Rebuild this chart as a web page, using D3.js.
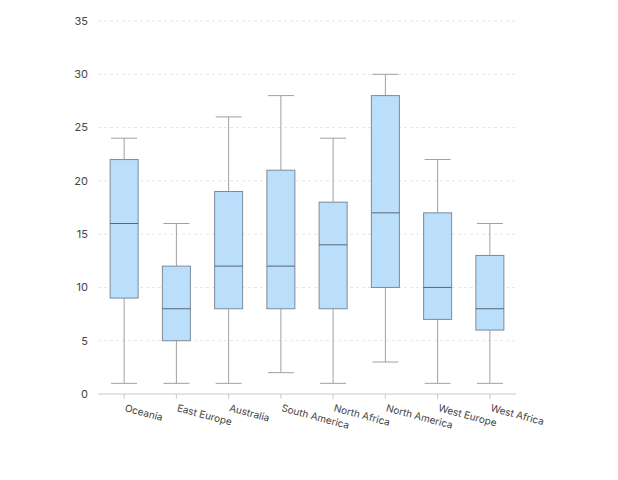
<!DOCTYPE html>
<html>
<head>
<meta charset="utf-8">
<script src="https://cdn.jsdelivr.net/npm/d3@7"></script>
<style>
  body { margin: 0; background: #fff; }
  svg { font-family: Inter, "Noto Sans", sans-serif; }
</style>
</head>
<body>
<svg id="chart"></svg>
<script>
const categories = ["Oceania", "East Europe", "Australia", "South America", "North Africa", "North America", "West Europe", "West Africa"];
const mins    = [1, 1, 1, 2, 1, 3, 1, 1];
const q1s     = [9, 5, 8, 8, 8, 10, 7, 6];
const medians = [16, 8, 12, 12, 14, 17, 10, 8];
const q3s     = [22, 12, 19, 21, 18, 28, 17, 13];
const maxs    = [24, 16, 26, 28, 24, 30, 22, 16];
const yTicks  = [0, 5, 10, 15, 20, 25, 30, 35];

const width = 618, height = 480;
const margin = {top: 21, right: 102, bottom: 86, left: 98};
const innerW = width - margin.left - margin.right;
const innerH = height - margin.top - margin.bottom;

const data = categories.map((c, i) => ({
    name: c, min: mins[i], q1: q1s[i], median: medians[i], q3: q3s[i], max: maxs[i]
}));

const svg = d3.select("#chart").attr("width", width).attr("height", height);
const g = svg.append("g").attr("transform", `translate(${margin.left},${margin.top})`);

const x = d3.scaleBand().domain(categories).range([0, innerW]);
const y = d3.scaleLinear().domain([0, 35]).range([innerH, 0]);

// grid lines
g.selectAll(".grid")
    .data(yTicks.filter(t => t > 0))
    .enter()
    .append("line")
    .attr("x1", 0).attr("x2", innerW)
    .attr("y1", d => y(d)).attr("y2", d => y(d))
    .attr("stroke", "#e6e6e6")
    .attr("stroke-dasharray", "3,3");

// y labels
g.selectAll(".ylab")
    .data(yTicks)
    .enter()
    .append("text")
    .attr("x", -10)
    .attr("y", d => y(d))
    .attr("dy", "0.35em")
    .attr("text-anchor", "end")
    .attr("font-size", 11)
    .attr("fill", "#444")
    .text(d => d);

// x axis line + ticks
g.append("line")
    .attr("x1", 0).attr("x2", innerW)
    .attr("y1", innerH).attr("y2", innerH)
    .attr("stroke", "#c8c8c8");
g.selectAll(".xtick")
    .data(categories)
    .enter()
    .append("line")
    .attr("x1", d => x(d) + x.bandwidth() / 2)
    .attr("x2", d => x(d) + x.bandwidth() / 2)
    .attr("y1", innerH).attr("y2", innerH + 5)
    .attr("stroke", "#c8c8c8");
g.selectAll(".xlab")
    .data(categories)
    .enter()
    .append("text")
    .attr("transform", d => `translate(${x(d) + x.bandwidth() / 2},${innerH + 17}) rotate(15)`)
    .attr("font-size", 10)
    .attr("fill", "#444")
    .text(d => d);

const boxW = 28, capW = 26;
const box = g.selectAll(".box")
    .data(data)
    .enter()
    .append("g")
    .attr("transform", d => `translate(${x(d.name) + x.bandwidth() / 2},0)`);

// whiskers
box.append("line")
    .attr("x1", 0).attr("x2", 0)
    .attr("y1", d => y(d.max)).attr("y2", d => y(d.q3))
    .attr("stroke", "#a0a0a0");
box.append("line")
    .attr("x1", 0).attr("x2", 0)
    .attr("y1", d => y(d.q1)).attr("y2", d => y(d.min))
    .attr("stroke", "#a0a0a0");
box.append("line")
    .attr("x1", -capW / 2).attr("x2", capW / 2)
    .attr("y1", d => y(d.max)).attr("y2", d => y(d.max))
    .attr("stroke", "#a0a0a0");
box.append("line")
    .attr("x1", -capW / 2).attr("x2", capW / 2)
    .attr("y1", d => y(d.min)).attr("y2", d => y(d.min))
    .attr("stroke", "#a0a0a0");

// box
box.append("rect")
    .attr("x", -boxW / 2)
    .attr("width", boxW)
    .attr("y", d => y(d.q3))
    .attr("height", d => y(d.q1) - y(d.q3))
    .attr("fill", "#bbdefb")
    .attr("stroke", "#7d8a99");
box.append("line")
    .attr("x1", -boxW / 2).attr("x2", boxW / 2)
    .attr("y1", d => y(d.median)).attr("y2", d => y(d.median))
    .attr("stroke", "#5c6670");
</script>
</body>
</html>
